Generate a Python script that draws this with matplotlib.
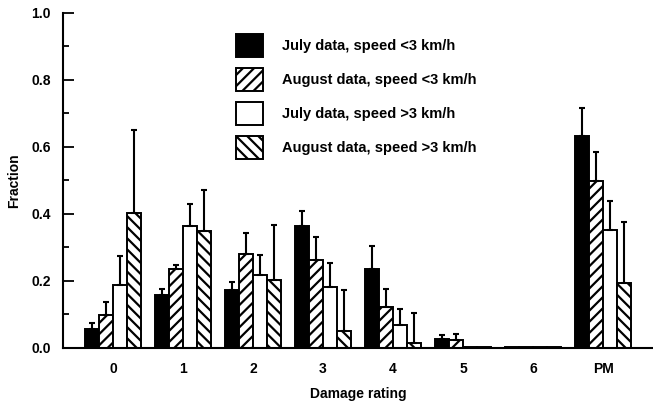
import numpy as np
import matplotlib
matplotlib.use("Agg")
import matplotlib.pyplot as plt

plt.rcParams['font.family'] = ['Liberation Sans', 'DejaVu Sans']
plt.rcParams['hatch.linewidth'] = 1.6

categories = ['0', '1', '2', '3', '4', '5', '6', 'PM']
labels = ['July data, speed <3 km/h', 'August data, speed <3 km/h',
          'July data, speed >3 km/h', 'August data, speed >3 km/h']

july_slow = [0.056, 0.158, 0.173, 0.365, 0.235, 0.026, 0.003, 0.633]
aug_slow = [0.099, 0.235, 0.281, 0.263, 0.122, 0.024, 0.003, 0.497]
july_fast = [0.188, 0.363, 0.217, 0.181, 0.069, 0.003, 0.003, 0.353]
aug_fast = [0.402, 0.348, 0.203, 0.049, 0.014, 0.003, 0.003, 0.193]

july_slow_top = [0.074, 0.175, 0.198, 0.41, 0.305, 0.039, None, 0.716]
aug_slow_top = [0.138, 0.248, 0.343, 0.33, 0.175, 0.04, None, 0.584]
july_fast_top = [0.275, 0.43, 0.278, 0.253, 0.117, None, None, 0.439]
aug_fast_top = [0.651, 0.47, 0.368, 0.173, 0.104, None, None, 0.377]

series = [july_slow, aug_slow, july_fast, aug_fast]
tops = [july_slow_top, aug_slow_top, july_fast_top, aug_fast_top]
colors = ['black', 'white', 'white', 'white']
hatches = [None, '///', None, '\\\\\\']

fig = plt.figure(figsize=(6.53, 4.05), dpi=100)
ax = fig.add_axes([0.0965, 0.141, 0.9035, 0.827])

x = np.arange(len(categories))
w = 0.2
for k in range(4):
    xs = x + (k - 1.5) * w
    ax.bar(xs, series[k], width=w, color=colors[k], edgecolor='black',
           linewidth=1.4, hatch=hatches[k], label=labels[k], zorder=2)
    ex, ey, eup = [], [], []
    for i in range(len(categories)):
        if tops[k][i] is not None:
            ex.append(xs[i])
            ey.append(series[k][i])
            eup.append(tops[k][i] - series[k][i])
    ax.errorbar(ex, ey, yerr=[np.zeros(len(eup)), eup], fmt='none',
                ecolor='black', elinewidth=1.5, capsize=2.5, capthick=1.5,
                zorder=3)

ax.set_xlim(-0.714, 7.714)
ax.set_ylim(0, 1.0)
ax.set_xticks(x)
ax.set_xticklabels(categories)
ax.set_yticks(np.arange(0, 1.01, 0.2))
ax.set_yticks(np.arange(0.1, 1.0, 0.2), minor=True)
ax.set_yticklabels(['%.1f' % v for v in np.arange(0, 1.01, 0.2)])
ax.tick_params(axis='x', length=0, pad=10, labelsize=10)
ax.tick_params(axis='y', which='major', direction='in', length=8, width=1.3,
               labelsize=10, pad=9)
ax.tick_params(axis='y', which='minor', direction='in', length=4, width=1.3)
for t in ax.get_xticklabels() + ax.get_yticklabels():
    t.set_fontweight('bold')

ax.spines['top'].set_visible(False)
ax.spines['right'].set_visible(False)
ax.spines['left'].set_linewidth(1.5)
ax.spines['bottom'].set_linewidth(1.5)

ax.set_xlabel('Damage rating', fontsize=10, fontweight='bold', labelpad=8)
ax.set_ylabel('Fraction', fontsize=10, fontweight='bold', labelpad=7)

ax.legend(loc='upper left', bbox_to_anchor=(0.294, 0.937), frameon=False,
          prop={'size': 10.5, 'weight': 'bold'}, handlelength=1.85,
          handleheight=2.05, labelspacing=0.75, handletextpad=1.3,
          borderpad=0, borderaxespad=0)

fig.savefig('out.png', dpi=100)
